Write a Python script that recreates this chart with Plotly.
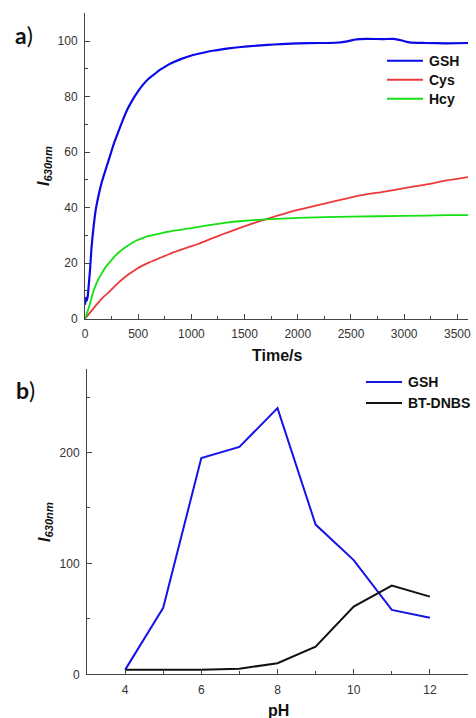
import plotly.graph_objects as go

# ---- Panel a: kinetics of I630nm ----
gsh_t = [0, 8, 16, 25, 35, 48, 60, 72, 85, 100, 120, 140, 160, 180, 205, 230, 250, 275,
         300, 350, 400, 450, 500, 550, 600, 650, 700, 750, 800, 900, 1000, 1100, 1200,
         1300, 1400, 1530, 1715, 1840, 2000, 2200, 2350, 2450, 2550, 2650, 2800, 2900,
         2980, 3050, 3200, 3400, 3600]
gsh_i = [5, 7.5, 6.5, 8, 12, 18, 25, 30, 34.5, 39, 43, 46.5, 49.5, 52, 55, 58, 60.5, 63.5,
         66, 71, 75.5, 79, 82, 84.5, 86.5, 88, 89.5, 90.7, 91.8, 93.5, 94.8, 95.7, 96.5,
         97.1, 97.6, 98.1, 98.6, 98.9, 99.2, 99.3, 99.4, 99.8, 100.6, 100.8, 100.7, 100.8,
         100.2, 99.5, 99.3, 99.2, 99.3]

cys_t = [0, 60, 125, 170, 220, 270, 315, 360, 410, 460, 505, 550, 600, 650, 700, 825,
         980, 1070, 1200, 1300, 1450, 1600, 1700, 1800, 2000, 2200, 2400, 2600, 2800,
         3000, 3200, 3400, 3600]
cys_i = [0, 2.8, 5.8, 7.7, 9.4, 11.3, 13, 14.5, 16, 17.3, 18.4, 19.3, 20.2, 21, 21.8, 23.8,
         25.9, 27, 29, 30.5, 32.6, 34.6, 35.8, 37, 39.2, 41, 42.8, 44.5, 45.7, 47, 48.3,
         49.8, 51]

hcy_t = [0, 40, 76, 100, 125, 160, 190, 240, 285, 330, 380, 430, 475, 540, 600, 670, 730,
         850, 980, 1070, 1200, 1330, 1450, 1700, 2000, 2500, 3000, 3400, 3600]
hcy_i = [0, 4.5, 9.4, 12, 14.2, 16.5, 18.4, 20.7, 22.7, 24.3, 25.7, 27, 28, 29, 29.8, 30.4,
         30.9, 31.8, 32.5, 33.1, 33.9, 34.6, 35.1, 35.8, 36.3, 36.8, 37, 37.3, 37.3]

# ---- Panel b: pH dependence ----
ph = [4, 5, 6, 7, 8, 9, 10, 11, 12]
ph_gsh = [4, 60, 195, 205, 240, 135, 103, 58, 51]
ph_probe = [4, 4, 4, 5, 10, 25, 61, 80, 70]

W, H = 476, 718
FONT = "Liberation Sans, Arial, sans-serif"
AXC = "#444444"
TICKC = "#333333"

# series: (name, x, y, colour, width, axis suffix)
top_series = [
    ("GSH", gsh_t, gsh_i, "#0a0ae8", 2.2),
    ("Cys", cys_t, cys_i, "#ec3a3a", 1.8),
    ("Hcy", hcy_t, hcy_i, "#14e014", 1.8),
]
bottom_series = [
    ("GSH", ph, ph_gsh, "#1414e6", 2.0),
    ("BT-DNBS", ph, ph_probe, "#111111", 2.0),
]

fig = go.Figure()
for name, xs, ys, col, w in top_series:
    fig.add_trace(go.Scatter(x=xs, y=ys, name=name, mode="lines",
                             line=dict(color=col, width=w, shape="spline", smoothing=0.5),
                             xaxis="x", yaxis="y"))
for name, xs, ys, col, w in bottom_series:
    fig.add_trace(go.Scatter(x=xs, y=ys, name=name, mode="lines",
                             line=dict(color=col, width=w), xaxis="x2", yaxis="y2"))


def px_x(p):
    return p / W


def px_y(p):
    return 1 - p / H


axis_common = dict(showline=True, linecolor=AXC, linewidth=1, ticks="inside",
                   ticklen=5, tickcolor=AXC, showgrid=False, zeroline=False,
                   tickfont=dict(family=FONT, size=12, color=TICKC), automargin=False)

fig.update_layout(
    width=W, height=H,
    margin=dict(l=0, r=0, t=0, b=0),
    paper_bgcolor="white", plot_bgcolor="white",
    template="none",
    showlegend=False,
    xaxis=dict(domain=[px_x(85), px_x(468)], range=[0, 3600], dtick=500,
               minor=dict(dtick=250, ticks="inside", ticklen=3, tickcolor=AXC),
               anchor="y", ticklabelstandoff=4, **axis_common),
    yaxis=dict(domain=[px_y(318.7), px_y(13.3)], range=[0, 110], dtick=20,
               minor=dict(dtick=10, ticks="inside", ticklen=3, tickcolor=AXC),
               anchor="x", ticklabelstandoff=4, **axis_common),
    xaxis2=dict(domain=[px_x(87), px_x(468)], range=[3, 13], tickvals=[4, 6, 8, 10, 12],
                minor=dict(tickvals=[3, 5, 7, 9, 11, 13], ticks="inside", ticklen=3,
                           tickcolor=AXC),
                anchor="y2", ticklabelstandoff=4, **axis_common),
    yaxis2=dict(domain=[px_y(674.3), px_y(369.3)], range=[0, 275], dtick=100,
                minor=dict(dtick=50, ticks="inside", ticklen=3, tickcolor=AXC),
                anchor="x2", ticklabelstandoff=4, **axis_common),
)

ann = []
shapes = []


def add_key(series, x0, x1, y_first, step):
    """Legend key: a short line sample followed by the series name."""
    for k, (name, _xs, _ys, col, w) in enumerate(series):
        yy = px_y(y_first + k * step)
        shapes.append(dict(type="line", xref="paper", yref="paper", x0=px_x(x0),
                           x1=px_x(x1), y0=yy, y1=yy, line=dict(color=col, width=2)))
        ann.append(dict(text="<b>%s</b>" % name, x=px_x(x1 + 4), y=yy, xanchor="left",
                        yanchor="middle",
                        font=dict(family=FONT, size=14, color="#111111")))


add_key(top_series, 387, 423, 60.7, 19)
add_key(bottom_series, 366, 402, 382, 21)

# panel labels
ann.append(dict(text="<b>a</b>)", x=px_x(13), y=px_y(35), xanchor="left", yanchor="middle",
                font=dict(family="Lato, sans-serif", size=23, color="#111111")))
ann.append(dict(text="<b>b</b>)", x=px_x(14), y=px_y(390), xanchor="left", yanchor="middle",
                font=dict(family="Lato, sans-serif", size=23, color="#111111")))
# axis titles
ytitle = "<b><i>I</i><sub><i>630nm</i></sub></b>"
ann.append(dict(text=ytitle, x=px_x(44), y=px_y(166), textangle=-90, xanchor="center",
                yanchor="middle", font=dict(family=FONT, size=16, color="#111111")))
ann.append(dict(text=ytitle, x=px_x(45), y=px_y(522), textangle=-90, xanchor="center",
                yanchor="middle", font=dict(family=FONT, size=16, color="#111111")))
ann.append(dict(text="<b>Time/s</b>", x=px_x(277), y=px_y(355.5), xanchor="center",
                yanchor="middle", font=dict(family=FONT, size=16, color="#111111")))
ann.append(dict(text="<b>pH</b>", x=px_x(278), y=px_y(710), xanchor="center",
                yanchor="middle", font=dict(family=FONT, size=16, color="#111111")))
for a in ann:
    a.update(xref="paper", yref="paper", showarrow=False)
fig.update_layout(annotations=ann, shapes=shapes)

fig.write_html("out.html")
